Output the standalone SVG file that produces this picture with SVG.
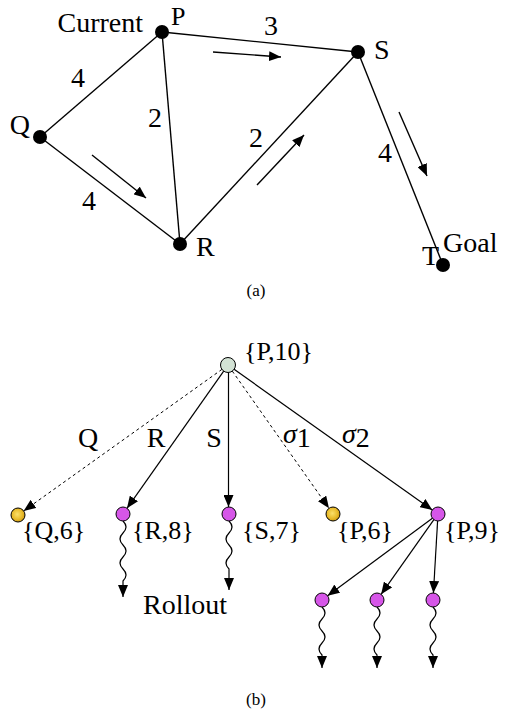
<svg xmlns="http://www.w3.org/2000/svg" width="509" height="715" viewBox="0 0 509 715" font-family="'Liberation Serif', 'Times New Roman', 'DejaVu Serif', serif">
<style>
text{font-family:'Liberation Serif','Times New Roman','DejaVu Serif',serif;fill:#000}
.lbl{font-size:28px}
.nl{font-size:26px}
.cap{font-size:17px}
.e{stroke:#000;stroke-width:1.4;fill:none}
.te{stroke:#000;stroke-width:1.2;fill:none}
.arr{marker-end:url(#ah)}
.dash{stroke-dasharray:3,3;stroke-width:1}
.gn{fill:#000}
.mg{fill:#d656e8;stroke:#000;stroke-width:1}
.gd{fill:url(#gold);stroke:#000;stroke-width:1}
.rt{fill:#d3e3d5;stroke:#000;stroke-width:1}
</style>
<defs>
<marker id="ah" viewBox="0 0 12 10" refX="12" refY="5" markerWidth="12" markerHeight="10" markerUnits="userSpaceOnUse" orient="auto">
<path d="M0,0 L12,5 L0,10 z" fill="#000"/>
</marker>
<radialGradient id="gold" cx="0.45" cy="0.45" r="0.6">
<stop offset="0" stop-color="#fbe06a"/>
<stop offset="0.6" stop-color="#e9bc2c"/>
<stop offset="1" stop-color="#c8920e"/>
</radialGradient>
</defs>

<g id="graph-edges">
<line class="e" x1="162" y1="32" x2="358" y2="52"/>
<line class="e" x1="162" y1="32" x2="40" y2="137"/>
<line class="e" x1="162" y1="32" x2="180" y2="244"/>
<line class="e" x1="40" y1="137" x2="180" y2="244"/>
<line class="e" x1="180" y1="244" x2="358" y2="52"/>
<line class="e" x1="358" y1="52" x2="443" y2="265"/>
<line class="e arr" x1="213" y1="52" x2="281" y2="57"/>
<line class="e arr" x1="92" y1="155" x2="146" y2="198"/>
<line class="e arr" x1="257" y1="185" x2="304" y2="135"/>
<line class="e arr" x1="399" y1="112" x2="427" y2="176"/>
<text class="lbl" x="78" y="87" text-anchor="middle">4</text>
<text class="lbl" x="155" y="127" text-anchor="middle">2</text>
<text class="lbl" x="89" y="210" text-anchor="middle">4</text>
<text class="lbl" x="271" y="35" text-anchor="middle">3</text>
<text class="lbl" x="256" y="147" text-anchor="middle">2</text>
<text class="lbl" x="385" y="162" text-anchor="middle">4</text>
</g>

<g id="P"><circle class="gn" cx="162" cy="32" r="7"/><text class="nl" x="171" y="25">P</text><text class="lbl" x="143" y="32" text-anchor="end">Current</text></g>
<g id="Q"><circle class="gn" cx="40" cy="137" r="7"/><text class="lbl" x="30" y="134" text-anchor="end">Q</text></g>
<g id="R"><circle class="gn" cx="180" cy="244" r="7"/><text class="lbl" x="196" y="256">R</text></g>
<g id="S"><circle class="gn" cx="358" cy="52" r="7"/><text class="lbl" x="374" y="59">S</text></g>
<g id="T"><circle class="gn" cx="443" cy="265" r="7"/><text class="lbl" x="439" y="265" text-anchor="end">T</text><text class="lbl" x="443" y="252">Goal</text></g>

<text class="cap" x="256" y="296" text-anchor="middle">(a)</text>

<g id="tree-edges">
<line class="te dash arr" x1="221.9" y1="369.4" x2="23.7" y2="510.9"/>
<line class="te arr" x1="223.7" y1="371.1" x2="127" y2="508.3"/>
<line class="te arr" x1="228.5" y1="372.5" x2="228.5" y2="507"/>
<line class="te dash arr" x1="232.3" y1="371.1" x2="329" y2="508.3"/>
<line class="te arr" x1="234.1" y1="369.3" x2="432.3" y2="510"/>
<line class="te arr" x1="432.4" y1="518.2" x2="327.6" y2="595.8"/>
<line class="te arr" x1="433.9" y1="519.7" x2="381.1" y2="594.3"/>
<line class="te arr" x1="437.6" y1="521" x2="433.4" y2="593"/>
<path class="te arr" d="M123,521 c4,4 4,8 0,12 s-4,8 0,12 s4,8 0,12 s-4,8 0,12 s4,8 0,12 l0,16"/>
<path class="te arr" d="M229,521 c4,4 4,8 0,12 s-4,8 0,12 s4,8 0,12 s-4,8 0,12 l0,21"/>
<path class="te arr" d="M322,607 c4,4 4,8 0,12 s-4,8 0,12 s4,8 0,12 s-4,8 0,12 l0,13"/>
<path class="te arr" d="M377,607 c4,4 4,8 0,12 s-4,8 0,12 s4,8 0,12 s-4,8 0,12 l0,13"/>
<path class="te arr" d="M433,607 c4,4 4,8 0,12 s-4,8 0,12 s4,8 0,12 s-4,8 0,12 l0,13"/>
<text class="lbl" x="88" y="447" text-anchor="middle">Q</text>
<text class="lbl" x="156" y="447" text-anchor="middle">R</text>
<text class="lbl" x="214" y="447" text-anchor="middle">S</text>
<text class="lbl" x="283" y="443"><tspan font-style="italic">σ</tspan><tspan dy="4">1</tspan></text>
<text class="lbl" x="342" y="443"><tspan font-style="italic">σ</tspan><tspan dy="4">2</tspan></text>
<text class="lbl" x="143" y="614">Rollout</text>
</g>

<g id="root"><circle class="rt" cx="228" cy="365" r="7.5"/><text class="nl" x="244" y="360">{P,10}</text></g>
<g id="nQ"><circle class="gd" cx="18" cy="515" r="7"/><text class="nl" x="22" y="539">{Q,6}</text></g>
<g id="nR"><circle class="mg" cx="123" cy="514" r="7"/><text class="nl" x="132" y="539">{R,8}</text></g>
<g id="nS"><circle class="mg" cx="229" cy="514" r="7"/><text class="nl" x="242" y="539">{S,7}</text></g>
<g id="nP6"><circle class="gd" cx="333" cy="514" r="7"/><text class="nl" x="337" y="539">{P,6}</text></g>
<g id="nP9"><circle class="mg" cx="438" cy="514" r="7"/><text class="nl" x="444" y="539">{P,9}</text></g>
<g id="g1"><circle class="mg" cx="322" cy="600" r="7"/></g>
<g id="g2"><circle class="mg" cx="377" cy="600" r="7"/></g>
<g id="g3"><circle class="mg" cx="433" cy="600" r="7"/></g>

<text class="cap" x="256" y="705" text-anchor="middle">(b)</text>
</svg>
